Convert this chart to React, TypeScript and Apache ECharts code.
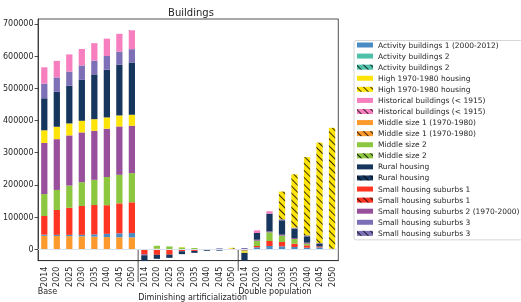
import React, { useEffect, useRef } from 'react';
import * as echarts from 'echarts';

const groups = ['Base', 'Diminishing artificialization', 'Double population'];
const years = ['2014', '2020', '2025', '2030', '2035', '2040', '2045', '2050'];
const categories = groups.flatMap((g) => years.map((y) => `${g}|${y}`));
const yTicks = [0, 100000, 200000, 300000, 400000, 500000, 600000, 700000];

// Base (8) | Diminishing artificialization (8) | Double population (8)
const middleSize1 = [42000, 41500, 41000, 40500, 39500, 38000, 37500, 37000, 0, 2000, 0, 1000, 0, 0, 0, 0, 0, 0, 0, 0, 0, 0, 0, 0];
const activity1 = [3500, 3500, 4000, 4500, 7000, 10000, 12000, 13500, -1500, 0, -1500, -1000, 0, 0, 0, 0, 0, 6200, 10300, 9300, 7200, 5200, 6200, 0];
const activity2 = [0, 0, 0, 0, 0, 0, 0, 0, 0, 0, 0, 0, 0, 0, 0, 0, 0, 0, 0, 0, 0, 0, 0, 0];
const smallSuburbs1 = [58000, 77000, 84000, 89400, 91000, 89000, 93200, 95500, -14000, -17000, -15000, -5000, -5000, 0, -2000, 0, -4000, 4100, 15500, 13500, 10300, 7200, 3000, 0];
const middleSize2 = [68000, 62400, 69000, 74000, 78200, 87500, 88600, 90500, 0, 9000, 9000, 5000, 4000, 0, 1500, 0, -3000, 16500, 27000, 19700, 14500, 5200, 0, 0];
const smallSuburbs2 = [158800, 157600, 155600, 154600, 152300, 150000, 150200, 147100, -3000, 0, 0, 0, 0, 0, 0, 1000, 0, 3100, 3100, 3100, 3100, 3100, 0, 2000];
const high1970 = [39200, 38500, 37200, 36000, 36000, 35000, 34100, 34100, 0, 0, 0, 1000, 0, 0, 0, 0, -4000, 0, 0, 0, 0, 0, 0, 0];
const rural = [99400, 108500, 116900, 127000, 139000, 148000, 157200, 162300, -17500, -12500, -10000, -9000, -6000, -4500, -2000, 0, -25000, 20700, 55000, 44500, 29000, 19700, 8300, 0];
const smallSuburbs3 = [45600, 44500, 44300, 44700, 43000, 42700, 41200, 41400, 0, 0, 0, 0, 0, 0, 2000, 0, 4000, 0, 0, 3100, 3100, 3100, 2000, 0];
const historical = [50500, 51500, 53000, 51300, 54000, 53800, 55000, 57600, 0, 0, 0, 0, 0, 0, 0, 1000, 0, 8300, 7200, 0, 0, 0, 0, 0];
const activity2H = [0, 0, 0, 0, 0, 0, 0, 0, 0, 0, 0, 0, 0, 0, 0, 0, 0, 0, 0, 0, 0, 0, 0, 0];
const high1970H = [0, 0, 0, 0, 0, 0, 0, 0, 0, 0, 0, 0, 0, 0, 0, 2500, 0, 0, 0, 86000, 165600, 242500, 311500, 375000];
const historicalH = [0, 0, 0, 0, 0, 0, 0, 1500, 0, 0, 0, 0, 0, 0, 0, 0, 0, 0, 0, 0, 0, 0, 0, 0];
const middleSize1H = [0, 0, 0, 0, 0, 0, 0, 0, 0, 0, 0, 0, 0, 0, 0, 0, 0, 0, 0, 0, 0, 0, 0, 0];
const middleSize2H = [0, 0, 0, 0, 0, 0, 0, 0, 0, 0, 0, 0, 0, 0, 0, 0, 0, 0, 0, 0, 0, 0, 0, 0];
const ruralH = [0, 0, 0, 0, 0, 0, 0, 0, 0, 0, 0, 0, 0, 0, 0, 0, 0, 0, 0, 0, 0, 0, 0, 0];
const smallSuburbs1H = [0, 0, 0, 0, 0, 0, 0, 0, 0, 0, 0, 0, 0, 0, 0, 0, 0, 0, 0, 0, 0, 0, 0, 0];
const smallSuburbs3H = [0, 0, 0, 0, 0, 0, 0, 0, 0, 0, 0, 0, 0, 0, 0, 0, 0, 0, 0, 0, 0, 0, 0, 0];

const C = {
  blue: '#4a8bc4',
  teal: '#4fc1a8',
  yellow: '#ffe40a',
  pink: '#f77fbf',
  orange: '#fd9a2e',
  green: '#8dc63f',
  navy: '#17365d',
  red: '#fd3522',
  purple: '#984f9c',
  lavender: '#7e70b6',
};

const H = ' (hatched)';
// stacking order (bottom -> top)
const seriesDefs = [
  { name: 'Middle size 1 (1970-1980)', color: C.orange, data: middleSize1 },
  { name: 'Activity buildings 1 (2000-2012)', color: C.blue, data: activity1 },
  { name: 'Activity buildings 2', color: C.teal, data: activity2 },
  { name: 'Small housing suburbs 1', color: C.red, data: smallSuburbs1 },
  { name: 'Middle size 2', color: C.green, data: middleSize2 },
  { name: 'Small housing suburbs 2 (1970-2000)', color: C.purple, data: smallSuburbs2 },
  { name: 'High 1970-1980 housing', color: C.yellow, data: high1970 },
  { name: 'Rural housing', color: C.navy, data: rural },
  { name: 'Small housing suburbs 3', color: C.lavender, data: smallSuburbs3 },
  { name: 'Historical buildings (< 1915)', color: C.pink, data: historical },
  { name: 'Activity buildings 2' + H, color: C.teal, data: activity2H, hatched: true },
  { name: 'Middle size 1 (1970-1980)' + H, color: C.orange, data: middleSize1H, hatched: true },
  { name: 'Small housing suburbs 1' + H, color: C.red, data: smallSuburbs1H, hatched: true },
  { name: 'Middle size 2' + H, color: C.green, data: middleSize2H, hatched: true },
  { name: 'Rural housing' + H, color: C.navy, data: ruralH, hatched: true },
  { name: 'Small housing suburbs 3' + H, color: C.lavender, data: smallSuburbs3H, hatched: true },
  { name: 'Historical buildings (< 1915)' + H, color: C.pink, data: historicalH, hatched: true },
  { name: 'High 1970-1980 housing' + H, color: C.yellow, data: high1970H, hatched: true },
];

const legendOrder = [
  'Activity buildings 1 (2000-2012)',
  'Activity buildings 2',
  'Activity buildings 2' + H,
  'High 1970-1980 housing',
  'High 1970-1980 housing' + H,
  'Historical buildings (< 1915)',
  'Historical buildings (< 1915)' + H,
  'Middle size 1 (1970-1980)',
  'Middle size 1 (1970-1980)' + H,
  'Middle size 2',
  'Middle size 2' + H,
  'Rural housing',
  'Rural housing' + H,
  'Small housing suburbs 1',
  'Small housing suburbs 1' + H,
  'Small housing suburbs 2 (1970-2000)',
  'Small housing suburbs 3',
  'Small housing suburbs 3' + H,
];

const FONT = 'DejaVu Sans';
const INK = '#262626';

export default function App() {
  const ref = useRef<HTMLDivElement>(null);
  useEffect(() => {
    if (!ref.current) return;
    const chart = echarts.init(ref.current, undefined, { renderer: 'svg' });
    const hatch = {
      symbol: 'rect',
      symbolSize: 1,
      color: 'rgba(0,0,0,0.8)',
      dashArrayX: [1, 0],
      dashArrayY: [1, 3.2],
      rotation: Math.PI / 4,
    };
    const series: any[] = seriesDefs.map((s, i) => ({
      type: 'bar',
      name: s.name,
      stack: 'total',
      barWidth: '50%',
      data: s.data,
      itemStyle: s.hatched ? { color: s.color, decal: hatch } : { color: s.color },
      ...(i === 0
        ? {
            markLine: {
              silent: true,
              symbol: ['none', 'none'],
              label: { show: false },
              lineStyle: { color: '#dbe4ee', width: 1, type: 'solid' },
              data: [{ yAxis: 0 }],
            },
          }
        : {}),
    }));
    chart.setOption({
      animation: false,
      textStyle: { fontFamily: FONT },
      grid: {
        left: 37.7,
        right: 521 - 338.3,
        top: 19,
        bottom: 302 - 260.6,
        show: true,
        borderColor: INK,
        borderWidth: 0.8,
      },
      legend: {
        orient: 'vertical',
        left: 354,
        top: 40.5,
        data: legendOrder,
        formatter: (n: string) => n.replace(H, ''),
        icon: 'rect',
        itemWidth: 16,
        itemHeight: 5,
        itemGap: 2.08,
        padding: [0, 3, 2, 3],
        borderColor: '#cccccc',
        borderWidth: 0.8,
        borderRadius: 2,
        selectedMode: false,
        textStyle: { fontSize: 7.5, lineHeight: 9, color: INK, fontFamily: FONT },
      },
      xAxis: {
        type: 'category',
        data: categories,
        axisLine: { onZero: false, lineStyle: { color: INK, width: 0.8 } },
        axisTick: { alignWithLabel: true, length: 3.5, lineStyle: { color: INK, width: 0.8 } },
        axisLabel: {
          rotate: 90,
          margin: 6,
          interval: 0,
          fontSize: 8,
          color: INK,
          fontFamily: FONT,
          formatter: (v: string) => v.split('|')[1],
        },
      },
      yAxis: {
        type: 'value',
        min: -35000,
        max: 715000,
        splitNumber: 7,
        splitLine: { show: false },
        axisLine: { show: true, lineStyle: { color: INK, width: 0.8 } },
        axisTick: { show: true, length: 3.5, customValues: yTicks, lineStyle: { color: INK, width: 0.8 } },
        axisLabel: {
          fontSize: 8,
          color: INK,
          margin: 4.5,
          fontFamily: FONT,
          customValues: yTicks,
          formatter: (v: number) => (yTicks.includes(v) ? String(v) : ''),
        },
      },
      series,
    });

    const px = (i: number) => chart.convertToPixel({ xAxisIndex: 0 }, i) as number;
    const sep1 = (px(7) + px(8)) / 2;
    const sep2 = (px(15) + px(16)) / 2;
    const zeroY = chart.convertToPixel({ yAxisIndex: 0 }, 0) as number;
    const gridLeft = 37.7;
    const textStyle = (text: string) => ({ text, fill: INK, fontSize: 8, fontFamily: FONT, align: 'left', verticalAlign: 'middle' });
    chart.setOption({
      graphic: [
        {
          type: 'text',
          x: 191,
          y: 12,
          style: { text: 'Buildings', fill: INK, fontSize: 10, fontFamily: FONT, align: 'center', verticalAlign: 'middle' },
        },
        { type: 'line', shape: { x1: sep1, y1: zeroY, x2: sep1, y2: 282 }, style: { stroke: INK, lineWidth: 0.8 } },
        { type: 'line', shape: { x1: sep2, y1: zeroY, x2: sep2, y2: 271 }, style: { stroke: INK, lineWidth: 0.8 } },
        { type: 'text', x: gridLeft, y: 291, style: textStyle('Base') },
        { type: 'text', x: sep1, y: 297.5, style: textStyle('Diminishing artificialization') },
        { type: 'text', x: sep2, y: 291, style: textStyle('Double population') },
      ],
    });
    return () => chart.dispose();
  }, []);
  return <div ref={ref} style={{ position: 'fixed', left: 0, top: 0, width: 521, height: 302 }} />;
}
